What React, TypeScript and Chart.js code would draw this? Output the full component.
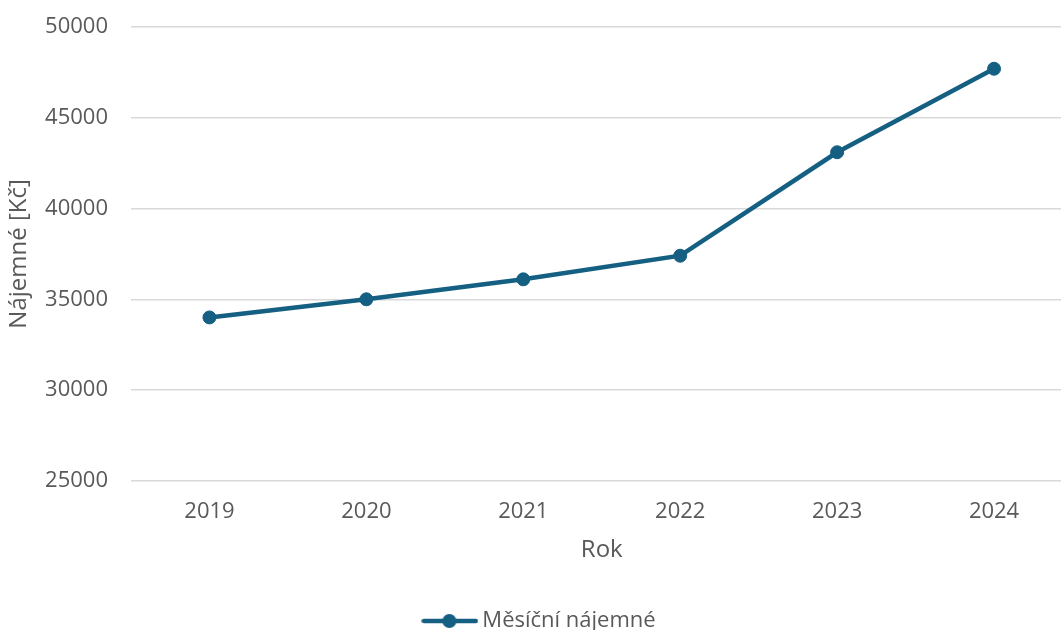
import React, { useEffect, useRef } from "react";
import { Chart, registerables } from "chart.js";

Chart.register(...registerables);

// Rental data per year
const years: string[] = ["2019", "2020", "2021", "2022", "2023", "2024"];
const rentValues: number[] = [34000, 35000, 36100, 37400, 43100, 47700];
const seriesLabel = "Měsíční nájemné";
const xTitle = "Rok";
const yTitle = "Nájemné [Kč]";
const yMin = 25000;
const yMax = 50000;
const yStep = 5000;

const LINE_COLOR = "#156082";
const TEXT_COLOR = "#595959";
const GRID_COLOR = "#d9d9d9";
const FONT_FAMILY = "'Open Sans', 'Noto Sans', sans-serif";
const FONT_SIZE = 22;
const TITLE_SIZE = 24;

// Legend swatch: a short line segment with a marker in the middle
function makeLegendSwatch(): HTMLCanvasElement {
  const c = document.createElement("canvas");
  c.width = 57;
  c.height = 16;
  const ctx = c.getContext("2d")!;
  ctx.strokeStyle = LINE_COLOR;
  ctx.lineWidth = 4.5;
  ctx.lineCap = "round";
  ctx.beginPath();
  ctx.moveTo(2.5, 8);
  ctx.lineTo(54.5, 8);
  ctx.stroke();
  ctx.fillStyle = LINE_COLOR;
  ctx.beginPath();
  ctx.arc(28, 8, 7, 0, Math.PI * 2);
  ctx.fill();
  return c;
}

export default function App() {
  const canvasRef = useRef<HTMLCanvasElement | null>(null);

  useEffect(() => {
    if (!canvasRef.current) return;
    const swatch = makeLegendSwatch();
    const chart = new Chart(canvasRef.current, {
      type: "line",
      data: {
        labels: years,
        datasets: [
          {
            label: seriesLabel,
            data: rentValues,
            borderColor: LINE_COLOR,
            backgroundColor: LINE_COLOR,
            borderWidth: 4.5,
            pointRadius: 6.5,
            pointBorderWidth: 1,
            pointBackgroundColor: LINE_COLOR,
            pointBorderColor: LINE_COLOR,
            tension: 0,
          },
        ],
      },
      options: {
        animation: false,
        responsive: true,
        maintainAspectRatio: false,
        layout: { padding: { top: 27, right: 4, bottom: 0, left: 8 } },
        font: { family: FONT_FAMILY },
        plugins: {
          tooltip: { enabled: false },
          legend: {
            position: "bottom",
            labels: {
              color: TEXT_COLOR,
              font: { family: FONT_FAMILY, size: FONT_SIZE },
              usePointStyle: true,
              pointStyleWidth: 43,
              padding: 10,
              generateLabels: (ch) =>
                ch.data.datasets.map((ds, i) => ({
                  text: ds.label as string,
                  fillStyle: LINE_COLOR,
                  strokeStyle: LINE_COLOR,
                  fontColor: TEXT_COLOR,
                  lineWidth: 0,
                  pointStyle: swatch,
                  hidden: false,
                  datasetIndex: i,
                })),
            },
          },
        },
        scales: {
          x: {
            offset: true,
            border: { display: false },
            grid: { display: false, drawTicks: false, offset: true },
            ticks: {
              color: TEXT_COLOR,
              font: { family: FONT_FAMILY, size: FONT_SIZE },
              padding: 18,
              maxRotation: 0,
            },
            title: {
              display: true,
              text: xTitle,
              color: TEXT_COLOR,
              font: { family: FONT_FAMILY, size: TITLE_SIZE },
              padding: { top: -7, bottom: 35 },
            },
          },
          y: {
            min: yMin,
            max: yMax,
            border: { display: false },
            grid: { color: GRID_COLOR, lineWidth: 1.5, drawTicks: false },
            ticks: {
              stepSize: yStep,
              color: TEXT_COLOR,
              font: { family: FONT_FAMILY, size: FONT_SIZE },
              padding: 23,
              callback: (v) => String(v),
            },
            title: {
              display: true,
              text: yTitle,
              color: TEXT_COLOR,
              font: { family: FONT_FAMILY, size: TITLE_SIZE },
              padding: { top: -3, bottom: 0 },
            },
            afterFit: (scale) => {
              scale.width = 123;
              scale.paddingTop = 0;
              scale.paddingBottom = 0;
            },
          },
        },
      },
    });
    return () => chart.destroy();
  }, []);

  return (
    <div
      style={{
        position: "fixed",
        left: 0,
        top: 0,
        width: 1061,
        height: 630,
        overflow: "hidden",
        background: "#ffffff",
      }}
    >
      <div style={{ position: "relative", width: 1080, height: 642 }}>
        <canvas ref={canvasRef} />
      </div>
    </div>
  );
}
